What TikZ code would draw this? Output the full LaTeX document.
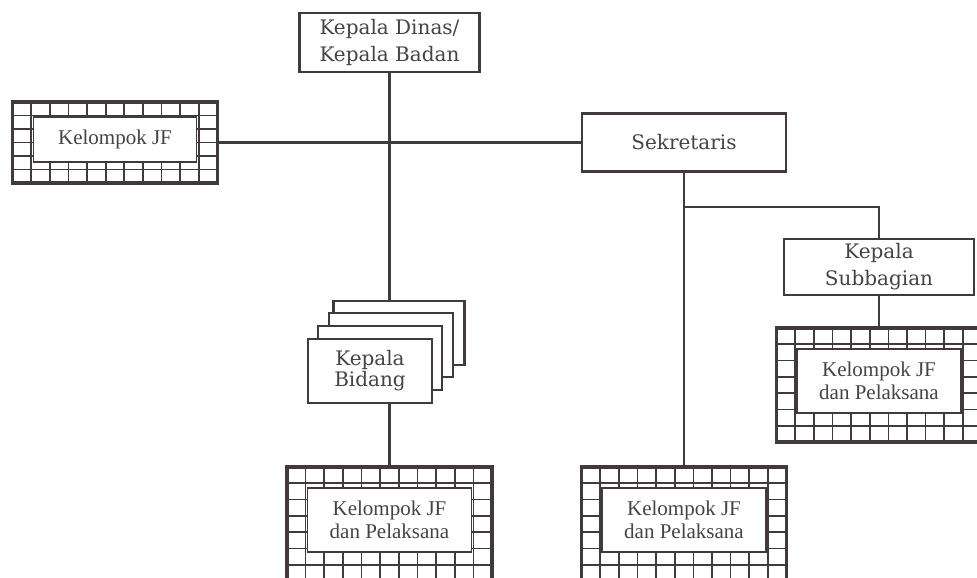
\documentclass[tikz,border=0pt]{standalone}
\usepackage{fontspec}
\setmainfont{DejaVu Serif}
\newfontfamily\jffont{Liberation Serif}
\definecolor{bagGaris}{RGB}{66,58,58}
\definecolor{bagTeks}{RGB}{72,66,66}

\tikzset{
  jabatan/.style={draw=bagGaris, line width=1.1pt, fill=white, text=bagTeks,
    align=center, inner sep=0pt, font=\fontsize{10}{13.5}\selectfont},
  hubung/.style={draw=bagGaris, line width=1.1pt},
  kisi/.style={draw=bagGaris, line width=0.85pt},
  jfbingkai/.style 2 args={draw=bagGaris, line width=1.9pt, fill=white,
    inner sep=0pt, minimum width=102.5pt, minimum height=#1,
    path picture={
      \foreach \k in {1,...,10}
        \draw[kisi] ([xshift=\k*9.32pt]path picture bounding box.north west)
          -- ([xshift=\k*9.32pt]path picture bounding box.south west);
      \foreach \k in {1,...,9}
        \draw[kisi] ([yshift=-\k*#2]path picture bounding box.north west)
          -- ([yshift=-\k*#2]path picture bounding box.north east);
    }},
  jfisi/.style={draw=bagGaris, line width=0.6pt, fill=white, text=bagTeks,
    align=center, inner sep=0pt, minimum width=82pt, minimum height=32pt,
    font=\jffont\fontsize{10.5}{11.5}\selectfont},
}

\begin{document}
\begin{tikzpicture}[x=0.5pt, y=-0.5pt]
  \clip (0,0) rectangle (977,577);

  % jabatan
  \node[jabatan, minimum width=90pt, minimum height=29.5pt] (dinas) at (389.5,42.5)
    {Kepala Dinas/\\Kepala Badan};
  \node[jabatan, minimum width=102pt, minimum height=29pt] (sekretaris) at (684,142.5)
    {Sekretaris};
  \node[jabatan, minimum width=95pt, minimum height=28pt] (subbagian) at (879,267)
    {Kepala\\Subbagian};

  % kelompok JF
  \node[jfbingkai={40.5pt}{6.75pt}] (jfKiri) at (115,142.5) {};
  \node[jfisi, minimum width=81.5pt, minimum height=22.5pt] (jfKiriIsi) at (115,139.5)
    {Kelompok JF};
  \node[jfbingkai={57pt}{8.15pt}] (jfBidang) at (389.5,524) {};
  \node[jfisi] (jfBidangIsi) at (389.5,520) {Kelompok JF\\dan Pelaksana};
  \node[jfbingkai={57pt}{8.15pt}] (jfSek) at (684,524) {};
  \node[jfisi] (jfSekIsi) at (684,520) {Kelompok JF\\dan Pelaksana};
  \node[jfbingkai={57pt}{8.15pt}] (jfSub) at (879,385) {};
  \node[jfisi] (jfSubIsi) at (879,381) {Kelompok JF\\dan Pelaksana};

  % garis
  \draw[hubung] (jfKiri) -- (sekretaris);
  \draw[hubung] (dinas) -- (jfBidang);
  \draw[hubung] (sekretaris) -- (jfSek);
  \coordinate (cabang) at (684,207);
  \draw[hubung] (cabang) -| (subbagian);
  \draw[hubung] (subbagian) -- (jfSub);

  % kepala bidang (bertumpuk)
  \coordinate (bidangPos) at (370,371);
  \foreach \dx/\dy/\lebar in {29/38/65.5pt, 21/26/62pt, 10/13/62pt}
    \node[jabatan, minimum width=\lebar, minimum height=32pt, shift={(\dx,-\dy)}]
      (kartu\dx) at (bidangPos) {};
  \node[jabatan, minimum width=62pt, minimum height=32pt,
        font=\fontsize{10}{10.5}\selectfont] (bidang) at (bidangPos) {Kepala\\Bidang};
\end{tikzpicture}
\end{document}
